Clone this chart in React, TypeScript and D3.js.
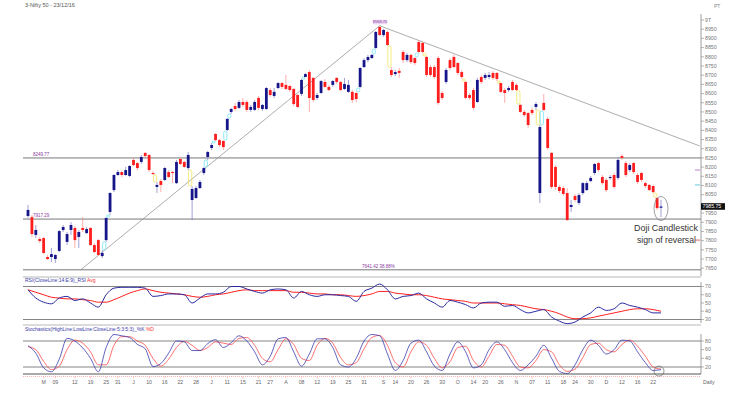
import React from "react";
import * as d3 from "d3";

const title = "3-Nifty 50 - 23/12/16";

// daily candles, late Apr -> 23 Dec 2016
const opens = [
  7934, 7928, 7831, 7809, 7814, 7711, 7711, 7700, 7744, 7858, 7793, 7858, 7869, 7820, 7869, 7841, 7869, 7776, 7803, 7716,
  7803, 7956, 8075, 8157, 8173, 8157, 8152, 8239, 8222, 8228, 8277, 8266, 8168, 8092, 8124, 8130, 8173, 8173, 8113, 8244,
  8228, 8195, 8021, 8032, 8086, 8168, 8255, 8304, 8380, 8347, 8342, 8402, 8500, 8532, 8522, 8554, 8554, 8511, 8511, 8576,
  8516, 8516, 8619, 8587, 8630, 8657, 8647, 8641, 8625, 8592, 8598, 8690, 8717, 8685, 8576, 8603, 8663, 8636, 8647, 8685,
  8663, 8625, 8609, 8609, 8603, 8636, 8744, 8782, 8793, 8848, 8962, 8918, 8935, 8728, 8706, 8723, 8826, 8782, 8810, 8793,
  8880, 8875, 8799, 8744, 8744, 8793, 8603, 8663, 8782, 8799, 8766, 8717, 8663, 8592, 8619, 8554, 8690, 8685, 8690, 8712,
  8712, 8657, 8619, 8619, 8663, 8647, 8538, 8500, 8494, 8511, 8527, 8059, 8549, 8462, 8277, 8201, 8092, 8086, 8059, 7983,
  8043, 8005, 8059, 8075, 8124, 8168, 8222, 8146, 8130, 8141, 8157, 8141, 8260, 8222, 8184, 8222, 8157, 8168, 8113, 8103,
  8097, 8032, 7979,
];
const highs = [
  7994, 7939, 7885, 7820, 7820, 7722, 7760, 7727, 7858, 7885, 7847, 7901, 7880, 7858, 7928, 7874, 7874, 7787, 7809, 7749,
  7928, 8064, 8162, 8184, 8179, 8201, 8211, 8250, 8228, 8266, 8282, 8271, 8179, 8119, 8135, 8201, 8184, 8179, 8239, 8255,
  8233, 8282, 8097, 8097, 8130, 8201, 8288, 8331, 8386, 8353, 8347, 8467, 8522, 8549, 8565, 8576, 8565, 8538, 8565, 8587,
  8543, 8636, 8630, 8630, 8663, 8663, 8701, 8647, 8630, 8598, 8679, 8712, 8728, 8690, 8603, 8674, 8679, 8647, 8674, 8690,
  8668, 8685, 8674, 8619, 8609, 8744, 8793, 8810, 8815, 8940, 8968.7, 8951, 8940, 8744, 8728, 8739, 8837, 8820, 8815, 8799,
  8891, 8880, 8804, 8755, 8755, 8804, 8614, 8739, 8793, 8810, 8771, 8728, 8668, 8603, 8630, 8685, 8701, 8712, 8717, 8723,
  8717, 8657, 8630, 8641, 8674, 8657, 8543, 8511, 8500, 8522, 8554, 8429, 8598, 8473, 8282, 8211, 8103, 8097, 8086, 8021,
  8054, 8059, 8119, 8124, 8152, 8222, 8228, 8157, 8141, 8157, 8168, 8250, 8271, 8233, 8222, 8228, 8168, 8173, 8119, 8108,
  8103, 8037, 8021,
];
const lows = [
  7923, 7820, 7814, 7787, 7727, 7695, 7684, 7679, 7738, 7847, 7776, 7831, 7760, 7760, 7847, 7836, 7771, 7733, 7716, 7705,
  7793, 7939, 8064, 8152, 8146, 8152, 8146, 8206, 8184, 8217, 8255, 8173, 8157, 8059, 8064, 8124, 8141, 8113, 8108, 8211,
  8195, 8184, 7912, 8026, 8081, 8157, 8239, 8293, 8342, 8309, 8293, 8396, 8489, 8505, 8516, 8527, 8500, 8500, 8505, 8511,
  8505, 8511, 8581, 8576, 8625, 8625, 8619, 8609, 8532, 8522, 8587, 8690, 8500, 8554, 8565, 8598, 8630, 8614, 8636, 8652,
  8614, 8619, 8603, 8549, 8554, 8630, 8739, 8771, 8788, 8842, 8913, 8908, 8859, 8690, 8695, 8685, 8766, 8771, 8761, 8755,
  8820, 8820, 8690, 8690, 8679, 8538, 8565, 8652, 8728, 8739, 8701, 8679, 8570, 8565, 8511, 8549, 8652, 8674, 8679, 8674,
  8668, 8603, 8549, 8609, 8614, 8614, 8494, 8473, 8413, 8483, 8511, 8005, 8505, 8293, 8081, 8075, 8059, 8043, 7907, 7956,
  8010, 7994, 8048, 8070, 8119, 8157, 8173, 8103, 8064, 8130, 8081, 8130, 8239, 8146, 8173, 8162, 8108, 8119, 8086, 8070,
  8059, 7967, 7928,
];
const closes = [
  7967, 7836, 7858, 7798, 7733, 7700, 7727, 7722, 7852, 7874, 7836, 7885, 7803, 7847, 7858, 7863, 7776, 7738, 7722, 7733,
  7923, 8059, 8157, 8173, 8157, 8184, 8206, 8211, 8195, 8255, 8260, 8184, 8162, 8103, 8103, 8195, 8146, 8168, 8228, 8217,
  8201, 8266, 8081, 8086, 8119, 8195, 8282, 8320, 8347, 8320, 8309, 8462, 8516, 8516, 8554, 8538, 8511, 8527, 8554, 8522,
  8538, 8630, 8592, 8609, 8657, 8636, 8625, 8619, 8543, 8527, 8674, 8706, 8576, 8565, 8592, 8668, 8636, 8619, 8668, 8663,
  8619, 8652, 8647, 8565, 8570, 8739, 8782, 8799, 8810, 8935, 8918, 8946, 8864, 8701, 8717, 8712, 8782, 8810, 8771, 8766,
  8826, 8826, 8701, 8701, 8690, 8549, 8576, 8728, 8739, 8744, 8712, 8690, 8576, 8576, 8522, 8674, 8663, 8701, 8701, 8685,
  8679, 8609, 8603, 8630, 8619, 8619, 8500, 8483, 8429, 8494, 8543, 8418, 8511, 8304, 8092, 8092, 8070, 8054, 7912, 7994,
  8021, 8048, 8113, 8113, 8141, 8217, 8184, 8113, 8075, 8146, 8092, 8239, 8250, 8157, 8211, 8173, 8119, 8130, 8097, 8075,
  8064, 7977, 7985.75,
];

// candle indices that open with a price gap (gap box drawn before them)
const gapIdx = [20, 21, 33, 42, 46, 48, 51, 52, 71, 85, 89, 93, 100, 102, 112, 121, 126, 131, 132, 161];

// indicators, one value every 2 sessions
const rsi = [
  66, 56, 51, 49, 56, 58, 53, 55, 50, 45, 60, 68, 69, 69, 69, 68, 58, 59, 61, 61,
  60, 50, 56, 61, 61, 63, 70, 70, 67, 64, 62, 66, 67, 66, 56, 64, 60, 58, 60, 60,
  59, 58, 52, 64, 68, 73, 66, 55, 58, 59, 62, 55, 50, 45, 53, 51, 48, 44, 50, 51,
  51, 46, 47, 42, 38, 40, 42, 33, 28, 25, 27, 33, 38, 45, 41, 43, 50, 47, 45, 42,
  38, 38,
];
const rsiAvg = [
  66, 63, 60, 57, 56, 55, 55, 54, 53, 51, 51, 54, 58, 62, 65, 67, 65, 63, 62, 61,
  60, 58, 57, 58, 60, 61, 63, 65, 66, 65, 65, 65, 65, 65, 63, 63, 62, 61, 61, 60,
  60, 59, 58, 59, 61, 64, 64, 62, 61, 60, 60, 59, 57, 55, 54, 53, 52, 50, 50, 50,
  50, 49, 48, 47, 45, 43, 42, 40, 37, 33, 31, 31, 32, 34, 36, 38, 40, 42, 43, 43,
  42, 40,
];
const stochK = [
  69, 52, 18, 9, 38, 86, 80, 64, 40, 9, 65, 95, 92, 88, 72, 62, 21, 28, 52, 80,
  78, 58, 58, 74, 83, 65, 76, 92, 80, 55, 25, 45, 85, 88, 55, 22, 50, 85, 85, 65,
  25, 20, 40, 80, 95, 92, 50, 12, 35, 75, 82, 55, 22, 12, 50, 78, 55, 18, 25, 60,
  78, 60, 30, 12, 25, 45, 70, 40, 10, 5, 25, 60, 82, 70, 50, 60, 82, 80, 55, 30,
  12, 14,
];
const stochD = [
  67, 60, 33, 14, 22, 60, 82, 75, 55, 25, 25, 70, 90, 90, 80, 70, 40, 22, 38, 65,
  79, 70, 58, 65, 78, 75, 72, 86, 88, 70, 40, 32, 60, 85, 72, 40, 35, 70, 86, 75,
  42, 25, 30, 62, 88, 93, 70, 30, 20, 55, 78, 70, 40, 18, 32, 65, 68, 35, 20, 45,
  72, 70, 45, 20, 18, 35, 60, 55, 25, 10, 15, 42, 72, 75, 60, 55, 72, 82, 68, 45,
  20, 15,
];

const dateLabels = ["M", "09", "12", "19", "25", "31", "J", "10", "16", "22", "28", "J", "11", "15", "21", "27", "A", "08", "12", "19", "25", "31", "S", "14", "20", "26", "30", "O", "14", "20", "26", "N", "07", "11", "18", "24", "30", "D", "12", "16", "22"];
const dateIdx = [4, 7, 12, 16, 20, 23, 27, 31, 35, 39, 43, 47, 51, 55, 59, 62, 66, 70, 74, 78, 82, 86, 91, 94, 98, 102, 106, 110, 114, 117, 121, 125, 129, 133, 137, 140, 144, 148, 152, 156, 160];

const levels = [8249.77, 7917.29, 7641.42];
const levelLabels = ["8249.77", "7917.29", "7641.42 38.88%"];

// trend lines: [index, price] pairs
const upTrend = [[13.5, 7641.42], [90, 8968.7]];
const downTrend = [[90, 8968.7], [171.9, 8315]];

const priceTicks = d3.range(7650, 9001, 50);
const rsiTicks = [70, 60, 50, 40, 30];
const stochTicks = [80, 60, 40, 20];

const axisMarkPrices = [8184, 8103, 7803];
const axisMarkColors = ["#b060c0", "#40c0e0", "#e04040"];

const BLUE = "#16168a";
const RED = "#ff1e1e";
const FONT = "'Liberation Sans', Arial, sans-serif";

export default function App() {
  const n = closes.length;
  const x = d3.scaleLinear().domain([0, n - 1]).range([28, 661]);
  const yP = d3.scaleLinear().domain([7641.42, 9000]).range([269.8, 20]);
  const yR = d3.scaleLinear().domain([30, 70]).range([319.5, 286.5]);
  const yS = d3.scaleLinear().domain([20, 80]).range([367, 341]);
  const axisX = 701;
  const left = 23;
  const bw = 2.8;

  const rLine = (s: (v: number) => number) =>
    d3
      .line<number>()
      .x((_, i) => x(i * 2))
      .y((d) => s(d))
      .curve(d3.curveMonotoneX);

  const tLine = d3
    .line<number[]>()
    .x((d) => x(d[0]))
    .y((d) => yP(d[1]));

  const last = n - 1;
  const lastY = yP(closes[last]);
  const fmt = (v: number) => (v % 1000 === 0 ? `${v / 1000}T` : `${v}`);

  return (
    <div style={{ position: "absolute", left: 0, top: 0 }}>
      <svg width={733} height={397} style={{ display: "block", background: "#fff" }} fontFamily={FONT}>
        <text x={25} y={7} fontSize={5.5} fill="#555">{title}</text>
        <text x={714} y={8} fontSize={5} fill="#888">PT</text>

        {/* level lines */}
        {levels.map((lv, i) => (
          <g key={"lv" + i}>
            <line x1={left} x2={axisX} y1={yP(lv)} y2={yP(lv)} stroke="#555" strokeWidth={0.8} />
            <text x={i === 2 ? 362 : 33} y={yP(lv) - 2} fontSize={4.5} fill="#8a3aa0">{levelLabels[i]}</text>
          </g>
        ))}

        {/* trend lines */}
        <path d={tLine(upTrend) || ""} stroke="#8a8a8a" strokeWidth={0.7} fill="none" />
        <path d={tLine(downTrend) || ""} stroke="#8a8a8a" strokeWidth={0.7} fill="none" />

        {/* gap boxes */}
        {gapIdx.map((i) => {
          const up = lows[i] > highs[i - 1];
          const a = up ? yP(highs[i - 1]) : yP(lows[i - 1]);
          const b = up ? yP(lows[i]) : yP(highs[i]);
          const top = Math.min(a, b);
          const h = Math.max(2, Math.abs(a - b));
          return (
            <rect
              key={"g" + i}
              x={(x(i) + x(i - 1)) / 2 - 1.6}
              y={top}
              width={3.2}
              height={h}
              rx={1.5}
              fill="none"
              stroke={up ? "#6fe6f5" : "#f3e55a"}
              strokeWidth={0.8}
            />
          );
        })}

        {/* candles */}
        {closes.map((c, i) => {
          const o = opens[i];
          const upC = c >= o;
          const top = yP(Math.max(o, c));
          const bot = yP(Math.min(o, c));
          return (
            <g key={"c" + i}>
              <line x1={x(i)} x2={x(i)} y1={yP(highs[i])} y2={yP(lows[i])} stroke={upC ? "#7878c8" : "#ff8a8a"} strokeWidth={0.7} />
              <rect x={x(i) - bw / 2} y={top} width={bw} height={Math.max(1, bot - top)} fill={upC ? BLUE : RED} />
            </g>
          );
        })}

        {/* peak label */}
        <rect x={373} y={yP(8968.7) - 6} width={14} height={4.5} fill="#ead6f2" />
        <text x={380} y={yP(8968.7) - 2.3} fontSize={4} textAnchor="middle" fill="#8a3aa0">8968.70</text>

        {/* annotations */}
        <ellipse
          cx={x(last)}
          cy={(yP(highs[last]) + yP(lows[last])) / 2}
          rx={7}
          ry={(yP(lows[last]) - yP(highs[last])) / 2 + 3.5}
          fill="none"
          stroke="#777"
          strokeWidth={0.7}
        />
        <text x={634} y={231} fontSize={9} fill="#333" textLength={64} lengthAdjust="spacingAndGlyphs">Doji Candlestick</text>
        <text x={637} y={243} fontSize={9} fill="#333" textLength={59} lengthAdjust="spacingAndGlyphs">sign of reversal</text>

        {/* price axis */}
        <line x1={axisX} x2={axisX} y1={14} y2={276} stroke="#888" strokeWidth={0.8} />
        {priceTicks.map((t) => (
          <g key={"pt" + t}>
            <line x1={axisX} x2={axisX + 3} y1={yP(t)} y2={yP(t)} stroke="#888" strokeWidth={0.6} />
            {Math.abs(yP(t) - lastY) > 5 && (
              <text x={axisX + 4} y={yP(t) + 1.8} fontSize={5.2} fill="#777">{fmt(t)}</text>
            )}
          </g>
        ))}
        {axisMarkPrices.map((p, i) => (
          <line key={"am" + i} x1={axisX - 6} x2={axisX - 1} y1={yP(p)} y2={yP(p)} stroke={axisMarkColors[i]} strokeWidth={0.8} />
        ))}
        <rect x={axisX} y={lastY - 3.3} width={24} height={6.6} fill="#111" />
        <text x={axisX + 1.5} y={lastY + 1.8} fontSize={5.2} fill="#fff">{closes[last]}</text>

        {/* panel separators */}
        <line x1={left} x2={axisX} y1={277} y2={277} stroke="#cfcfcf" strokeWidth={1.5} />
        <line x1={left} x2={axisX} y1={325} y2={325} stroke="#cfcfcf" strokeWidth={1.5} />

        {/* RSI panel */}
        <text x={25} y={282} fontSize={5} fill="#3a3aa8">
          RSI(CloseLine:14:E:9)_RSI <tspan fill="#ff3030">Avg</tspan>
        </text>
        {[70, 30].map((v) => (
          <line key={"rl" + v} x1={left} x2={axisX} y1={yR(v)} y2={yR(v)} stroke="#666" strokeWidth={0.8} />
        ))}
        <path d={rLine(yR)(rsiAvg) || ""} fill="none" stroke={RED} strokeWidth={1} />
        <path d={rLine(yR)(rsi) || ""} fill="none" stroke="#2a2aa0" strokeWidth={1} />
        <line x1={axisX} x2={axisX} y1={282} y2={323} stroke="#888" strokeWidth={0.8} />
        {rsiTicks.map((t) => (
          <g key={"rt" + t}>
            <line x1={axisX} x2={axisX + 3} y1={yR(t)} y2={yR(t)} stroke="#888" strokeWidth={0.6} />
            <text x={axisX + 4} y={yR(t) + 1.8} fontSize={5.2} fill="#777">{t}</text>
          </g>
        ))}

        {/* Stochastics panel */}
        <text x={25} y={331} fontSize={5} fill="#3a3aa8">
          Stochastics(HighLine:LowLine:CloseLine:5:3:5:3)_%K <tspan fill="#ff3030">%D</tspan>
        </text>
        {[80, 20].map((v) => (
          <line key={"sl" + v} x1={left} x2={axisX} y1={yS(v)} y2={yS(v)} stroke="#666" strokeWidth={0.8} />
        ))}
        <path d={rLine(yS)(stochD) || ""} fill="none" stroke="#ff4a4a" strokeWidth={0.8} />
        <path d={rLine(yS)(stochK) || ""} fill="none" stroke="#3a3ab0" strokeWidth={0.8} />
        <circle cx={x(last) - 2} cy={yS(stochK[stochK.length - 1]) + 1.5} r={5} fill="none" stroke="#666" strokeWidth={0.7} />
        <line x1={axisX} x2={axisX} y1={334} y2={374} stroke="#888" strokeWidth={0.8} />
        {stochTicks.map((t) => (
          <g key={"st" + t}>
            <line x1={axisX} x2={axisX + 3} y1={yS(t)} y2={yS(t)} stroke="#888" strokeWidth={0.6} />
            <text x={axisX + 4} y={yS(t) + 1.8} fontSize={5.2} fill="#777">{t}</text>
          </g>
        ))}
        <line x1={left} x2={axisX} y1={374} y2={374} stroke="#555" strokeWidth={1} />

        {/* date axis */}
        <line x1={left} x2={axisX} y1={376.5} y2={376.5} stroke="#f08a8a" strokeWidth={0.6} strokeDasharray="1,1" />
        {dateIdx.map((d, i) => (
          <g key={"d" + i}>
            <line x1={x(d)} x2={x(d)} y1={376.5} y2={378.5} stroke="#f08a8a" strokeWidth={0.5} />
            <text x={x(d)} y={384} fontSize={5.2} textAnchor="middle" fill="#666">{dateLabels[i]}</text>
          </g>
        ))}
        <text x={703} y={384} fontSize={5.2} fill="#666">Daily</text>
      </svg>
    </div>
  );
}
